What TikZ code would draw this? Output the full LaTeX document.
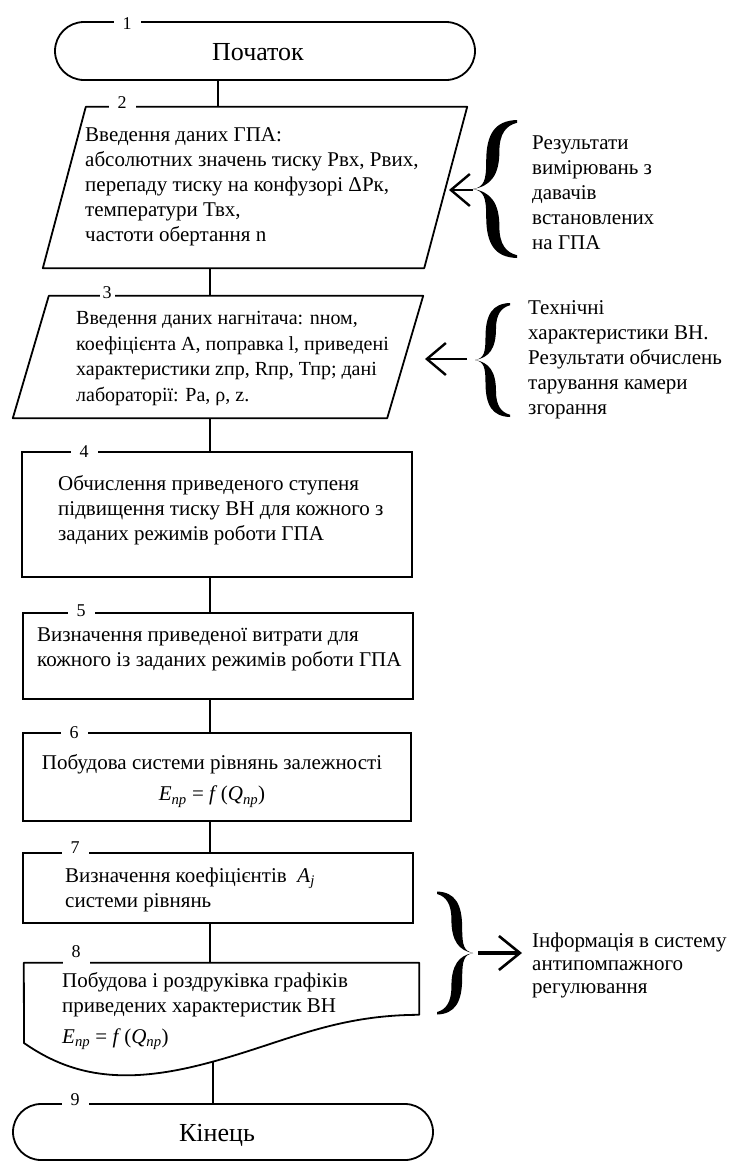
\documentclass[tikz,border=0pt]{standalone}
\usepackage{fontspec}
\setmainfont{Liberation Serif}
\usetikzlibrary{shapes.misc,arrows.meta}
\newcommand\bracefig[4]{% tip x, tip y, signed width, half height
  \begin{scope}[shift={(#1,#2)}, x=#3pt, y=#4pt]
    \fill (0,0) .. controls (0.25,0.03) and (0.3,0.12) .. (0.3,0.4)
          .. controls (0.3,0.8) and (0.5,0.99) .. (1,1) -- (1,0.96)
          .. controls (0.75,0.92) and (0.6,0.8) .. (0.6,0.55)
          .. controls (0.6,0.2) and (0.4,0.04) .. (0,0) -- cycle;
    \fill (0,0) .. controls (0.25,-0.03) and (0.3,-0.12) .. (0.3,-0.4)
          .. controls (0.3,-0.8) and (0.5,-0.99) .. (1,-1) -- (1,-0.96)
          .. controls (0.75,-0.92) and (0.6,-0.8) .. (0.6,-0.55)
          .. controls (0.6,-0.2) and (0.4,-0.04) .. (0,0) -- cycle;
  \end{scope}}
\begin{document}
\begin{tikzpicture}[x=1pt,y=-1pt,
  every node/.style={font=\fontsize{21}{25}\selectfont, inner sep=0pt},
  outline/.style={line width=1.8pt, line join=round},
  boxnode/.style={rectangle, draw, line width=1.8pt, inner sep=0pt},
  term/.style={rounded rectangle, draw, line width=1.8pt, inner sep=0pt},
  ghost/.style={rectangle, draw=none, inner sep=0pt},
  num/.style={fill=white, inner xsep=9pt, inner ysep=6pt, font=\fontsize{18}{18}\selectfont},
  txt/.style={align=left, anchor=west},
  bigtxt/.style={font=\fontsize{26}{30}\selectfont},
  link/.style={line width=1.8pt},
  inarrow/.style={line width=2.6pt, -{Straight Barb[length=19pt,width=32pt,line width=2.4pt]}},
  outarrow/.style={line width=4.5pt, -{Straight Barb[length=21pt,width=34pt,line width=2.6pt]}}]
\useasboundingbox (0,0) rectangle (733,1162);
\fill[white] (0,0) rectangle (733,1162);
\coordinate (spA) at (218,0);
\coordinate (sp) at (210,0);
% blocks
\node[term, minimum width=420pt, minimum height=58pt] (b1) at (265,51) {};
\node[ghost, minimum width=424pt, minimum height=161pt] (b2) at (255,187.5) {};
\draw[outline] ([xshift=43pt]b2.north west) -- (b2.north east) -- ([xshift=-43pt]b2.south east) -- (b2.south west) -- cycle;
\node[ghost, minimum width=410pt, minimum height=122pt] (b3) at (218,357) {};
\draw[outline] ([xshift=36pt]b3.north west) -- (b3.north east) -- ([xshift=-36pt]b3.south east) -- (b3.south west) -- cycle;
\node[boxnode, minimum width=390pt, minimum height=125pt] (b4) at (217,514.5) {};
\node[boxnode, minimum width=390pt, minimum height=86pt] (b5) at (218,656) {};
\node[boxnode, minimum width=388pt, minimum height=88pt] (b6) at (217,777) {};
\node[boxnode, minimum width=390pt, minimum height=70pt] (b7) at (218,888) {};
\node[ghost, minimum width=395pt, minimum height=110pt] (b8) at (221.5,1018) {};
\draw[outline] (b8.north west) -- (b8.north east) -- ([yshift=-52pt]b8.north east)
  .. controls (330,1015) and (280,1045) .. (200,1065)
  .. controls (120,1085) and (70,1075) .. (24,1043) -- cycle;
\coordinate (b8out) at (213,1062);
\node[term, minimum width=420pt, minimum height=56pt] (b9) at (223,1132) {};
% connectors
\draw[link] (b1.south -| spA) -- (b2.north -| spA);
\draw[link] (b2.south -| sp) -- (b3.north -| sp);
\draw[link] (b3.south -| sp) -- (b4.north -| sp);
\draw[link] (b4.south -| sp) -- (b5.north -| sp);
\draw[link] (b5.south -| sp) -- (b6.north -| sp);
\draw[link] (b6.south -| sp) -- (b7.north -| sp);
\draw[link] (b7.south -| sp) -- (b8.north -| sp);
\draw[link] (b8out) -- (b8out |- b9.north);
% number labels
\node[num] (n1) at (127,24) {1};
\node[num] (n2) at (122,103) {2};
\node[num, inner xsep=3pt] (n3) at (107,293) {3};
\node[num] (n4) at (84,452) {4};
\node[num] (n5) at (81,611) {5};
\node[num] (n6) at (74,733) {6};
\node[num] (n7) at (75,848) {7};
\node[num, inner ysep=8pt] (n8) at (76,952) {8};
\node[num] (n9) at (75,1100) {9};
% texts
\node[bigtxt] (t1) at (258,52) {Початок};
\node[txt] (t2) at (85,187) {Введення даних ГПА:\\абсолютних значень тиску Рвх, Рвих,\\перепаду тиску на конфузорі ΔРк,\\температури Твх,\\частоти обертання n};
\node[txt, font=\fontsize{20}{25.5}\selectfont] (t3) at (76,358.5) {Введення даних нагнітача: nном,\\коефіцієнта А, поправка l, приведені\\характеристики zпр, Rпр, Тпр; дані\\лабораторії: Pa, ρ, z.};
\node[txt] (t4) at (58,510) {Обчислення приведеного ступеня\\підвищення тиску ВН для кожного з\\заданих режимів роботи ГПА};
\node[txt] (t5) at (37,649) {Визначення приведеної витрати для\\кожного із заданих режимів роботи ГПА};
\node[align=center] (t6) at (212,781) {Побудова системи рівнянь залежності\\[6pt]\textit{E}\textsubscript{\textit{пр}} = \textit{f}\,(\textit{Q}\textsubscript{\textit{пр}})};
\node[txt] (t7) at (65,889.5) {Визначення коефіцієнтів~ \textit{A}\textsubscript{\textit{j}}\\системи рівнянь};
\node[txt] (t8) at (62,1011) {Побудова і роздруківка графіків\\приведених характеристик ВН\\[6pt]\textit{E}\textsubscript{\textit{пр}} = \textit{f}\,(\textit{Q}\textsubscript{\textit{пр}})};
\node[bigtxt] (t9) at (217,1135) {Кінець};
% side notes
\node[txt] (tA) at (532,193) {Результати\\вимірювань з\\давачів\\встановлених\\на ГПА};
\node[txt] (tB) at (528,360) {Технічні\\характеристики ВН.\\Результати обчислень\\тарування камери\\згорання};
\node[txt, font=\fontsize{21}{23}\selectfont] (tC) at (532,965) {Інформація в систему\\антипомпажного\\регулювання};
% braces and arrows
\bracefig{473}{189}{44}{69}
\coordinate (brA) at (473,190);
\coordinate (inA) at (449,190);
\draw[inarrow] (brA) -- (inA);
\bracefig{475}{360}{35}{57}
\coordinate (brB) at (467,359);
\coordinate (inB) at (425,359);
\draw[inarrow] (brB) -- (inB);
\bracefig{473}{953}{-36}{61.5}
\coordinate (brC) at (478,953);
\coordinate (outC) at (522,953);
\draw[outarrow] (brC) -- (outC);
\end{tikzpicture}
\end{document}
